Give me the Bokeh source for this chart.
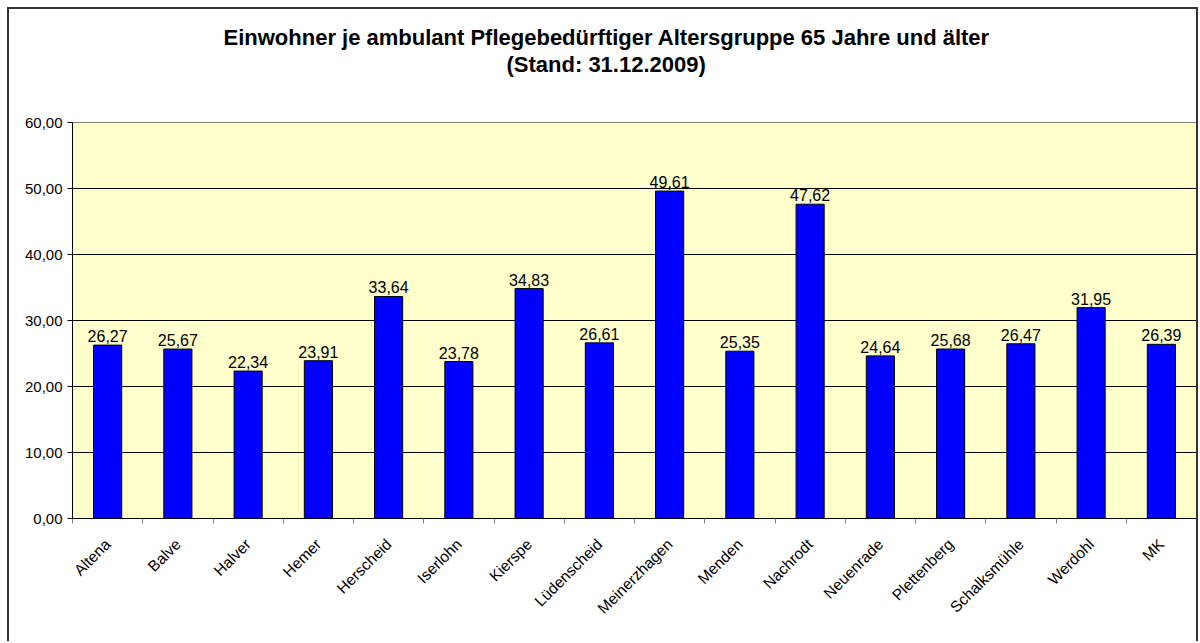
import math
from bokeh.plotting import figure
from bokeh.models import FixedTicker, Title, ColumnDataSource
from bokeh.core.properties import value
from bokeh.embed import file_html
from bokeh.resources import INLINE

categories = ["Altena", "Balve", "Halver", "Hemer", "Herscheid", "Iserlohn", "Kierspe",
              "Lüdenscheid", "Meinerzhagen", "Menden", "Nachrodt", "Neuenrade",
              "Plettenberg", "Schalksmühle", "Werdohl", "MK"]
values = [26.27, 25.67, 22.34, 23.91, 33.64, 23.78, 34.83, 26.61, 49.61, 25.35,
          47.62, 24.64, 25.68, 26.47, 31.95, 26.39]
y_ticks = [0, 10, 20, 30, 40, 50, 60]
y_tick_labels = ["0,00", "10,00", "20,00", "30,00", "40,00", "50,00", "60,00"]
title_line1 = "Einwohner je ambulant Pflegebedürftiger Altersgruppe 65 Jahre und älter"
title_line2 = "(Stand: 31.12.2009)"

FONT = "Liberation Sans"

xs = [i + 0.5 for i in range(len(categories))]
src = ColumnDataSource(dict(x=xs, top=values, cat=categories,
                            lbl=[f"{v:.2f}".replace(".", ",") for v in values]))

p = figure(width=1187, height=632, x_range=(0, len(categories)), y_range=(0, 60),
           output_backend="svg", toolbar_location=None, title=None,
           min_border_left=63, min_border_right=4, min_border_top=113, min_border_bottom=125)
p.styles = {"border": "2px solid #333333", "border-bottom": "none", "box-sizing": "content-box",
            "margin-left": "7px", "margin-top": "7px"}
p.background_fill_color = "#FFFFCC"
p.border_fill_color = "white"
p.outline_line_color = "#808080"

p.vbar(x="x", top="top", width=0.4, bottom=0, source=src,
       fill_color="#0000FF", line_color="black", line_width=1)
p.text(x="x", y="top", text="lbl", source=src, y_offset=-9,
       text_align="center", text_baseline="alphabetic",
       text_font=value(FONT), text_font_size="16px", text_color="black")

# x axis
xa = p.xaxis[0]
xa.ticker = FixedTicker(ticks=xs, minor_ticks=list(range(len(categories) + 1)))
xa.major_label_overrides = {x: c for x, c in zip(xs, categories)}
xa.major_tick_line_color = None
xa.minor_tick_line_color = "#808080"
xa.minor_tick_out = 5
xa.minor_tick_in = 0
xa.axis_line_color = "black"
xa.major_label_orientation = math.pi / 4
xa.major_label_text_font = FONT
xa.major_label_text_font_size = "15.5px"
xa.major_label_text_color = "black"
xa.major_label_standoff = 17

# y axis
ya = p.yaxis[0]
ya.ticker = FixedTicker(ticks=y_ticks)
ya.major_label_overrides = {t: l for t, l in zip(y_ticks, y_tick_labels)}
ya.major_tick_line_color = "black"
ya.major_tick_out = 5
ya.major_tick_in = 0
ya.minor_tick_line_color = None
ya.axis_line_color = "black"
ya.major_label_text_font = FONT
ya.major_label_text_font_size = "15px"
ya.major_label_text_color = "black"
ya.major_label_standoff = 5

p.xgrid.grid_line_color = None
p.ygrid.ticker = FixedTicker(ticks=y_ticks[1:-1])
p.ygrid.grid_line_color = "black"
p.ygrid.grid_line_width = 1

# spacer between title block and plot area
spacer = Title(text=" ", align="left", standoff=20, text_font=FONT,
               text_font_size="21.5px", text_color="white")
t2 = Title(text=title_line2, align="left", offset=434, standoff=0, text_font=FONT,
           text_font_style="bold", text_font_size="22px", text_color="black")
t1 = Title(text=title_line1, align="left", offset=151, standoff=0, text_font=FONT,
           text_font_style="bold", text_font_size="22px", text_color="black")
p.add_layout(spacer, "above")
p.add_layout(t2, "above")
p.add_layout(t1, "above")

open("out.html", "w").write(file_html(p, INLINE))
